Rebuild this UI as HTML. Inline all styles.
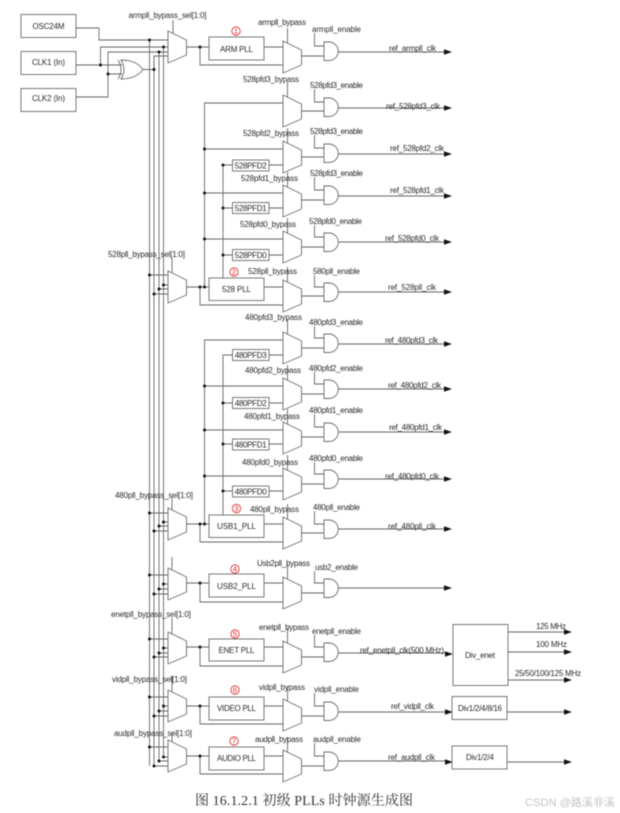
<!DOCTYPE html>
<html><head><meta charset="utf-8"><title>PLLs</title>
<style>
html,body{margin:0;padding:0;background:#fff;width:620px;height:813px;overflow:hidden}
svg{display:block;filter:blur(0.4px)}
.l{fill:none;stroke:#666;stroke-width:.9}
.s{fill:#fff;stroke:#6a6a6a;stroke-width:.9}
text{font-family:"Liberation Sans",sans-serif;font-size:8px;fill:#2a2a2a}
.c{text-anchor:middle}
.r{font-size:7.5px;fill:#e02020;text-anchor:middle}
.rc{fill:none;stroke:#e02020;stroke-width:.8}
</style></head><body>
<svg width="620" height="813" viewBox="0 0 620 813" xmlns="http://www.w3.org/2000/svg">
<defs>
<path id="m" d="M0 0L18.5 9V24L0 32Z" fill="#fff" stroke="#6a6a6a" stroke-width=".9"/>
<path id="a" d="M0 0H5A9.25 9.25 0 0 1 5 18.5H0Z" fill="#fff" stroke="#6a6a6a" stroke-width=".9"/>
<path id="h" d="M0 -2.800L8 0L0 2.800Z" fill="#111"/>
<circle id="d" r="1.5" fill="#111"/>
</defs>

<!-- Bus lines -->
<path class="l" d="M149.5 40V766M154 56V766M159 52V761M163.5 47V757"/>
<!-- Inputs -->
<path class="l" d="M76 28H99V40H168M76 65H122M100.5 65V47H168M76 97H108V52H168M108 74H122M143 69.5H154V56H168"/>
<rect class="s" x="21" y="14.500" width="55" height="23"/>
<rect class="s" x="21" y="51.500" width="55" height="23"/>
<rect class="s" x="21" y="88.500" width="55" height="23"/>
<path class="s" d="M121 60Q127 69.500 121 79Q136 79 143 69.500Q136 60 121 60Z"/>
<path class="l" d="M118 60Q124 69.500 118 79"/>
<use href="#d" x="100.500" y="65"/><use href="#d" x="108" y="74"/>
<use href="#d" x="149.500" y="40"/><use href="#d" x="163.500" y="47"/><use href="#d" x="159" y="52"/><use href="#d" x="154" y="69.500"/>
<text class="c" x="48.500" y="29" textLength="32">OSC24M</text>
<text class="c" x="48.500" y="65" textLength="33">CLK1 (In)</text>
<text class="c" x="48.500" y="101" textLength="33">CLK2 (In)</text>

<!-- Left stage wiring -->
<path class="l" d="M173 20V33M186 47H283M200 47V65H283
M172 258V273M149.500 275H168M163.500 285H168M159 289H168M154 294H168M186 287H283M200 287V305H283
M172 498V510M149.500 513H168M163.500 522H168M159 526H168M154 531H168M186 524H283M200 524V542H283
M172 557V570M149.500 575H168M163.500 584H168M159 589H168M154 594H168M186 583H283M200 583V602H283
M172 618V634M149.500 639H168M163.500 648H168M159 653H168M154 657H168M186 647H283M200 647V666H283
M172 676V692M149.500 697H168M163.500 706H168M159 711H168M154 716H168M186 706H283M200 706V724H283
M172 732V742M149.500 747H168M163.500 757H168M159 761H168M154 766H168M186 756H283M200 756V774H283"/>
<!-- 528 rails -->
<path class="l" d="M204.500 287V103H283M204.500 149H283M204.500 193H283M204.500 239H283M223 278V165H283M223 208H283M223 255H283"/>
<!-- 480 rails -->
<path class="l" d="M204.500 524V340H283M204.500 386H283M204.500 430H283M204.500 476H283M223 515V355H283M223 403H283M223 444H283M223 491H283"/>

<use href="#m" x="168" y="31"/><use href="#m" x="168" y="271"/><use href="#m" x="168" y="508"/><use href="#m" x="168" y="568"/><use href="#m" x="168" y="632"/><use href="#m" x="168" y="690"/><use href="#m" x="168" y="740"/>

<!-- Left mux dots -->
<g>
<use href="#d" x="200" y="47"/>
<use href="#d" x="149.500" y="275"/><use href="#d" x="163.500" y="285"/><use href="#d" x="159" y="289"/><use href="#d" x="154" y="294"/><use href="#d" x="200" y="287"/><use href="#d" x="204.500" y="287"/>
<use href="#d" x="149.500" y="513"/><use href="#d" x="163.500" y="522"/><use href="#d" x="159" y="526"/><use href="#d" x="154" y="531"/><use href="#d" x="200" y="524"/><use href="#d" x="204.500" y="524"/>
<use href="#d" x="149.500" y="575"/><use href="#d" x="163.500" y="584"/><use href="#d" x="159" y="589"/><use href="#d" x="154" y="594"/><use href="#d" x="200" y="583"/>
<use href="#d" x="149.500" y="639"/><use href="#d" x="163.500" y="648"/><use href="#d" x="159" y="653"/><use href="#d" x="154" y="657"/><use href="#d" x="200" y="647"/>
<use href="#d" x="149.500" y="697"/><use href="#d" x="163.500" y="706"/><use href="#d" x="159" y="711"/><use href="#d" x="154" y="716"/><use href="#d" x="200" y="706"/>
<use href="#d" x="149.500" y="747"/><use href="#d" x="163.500" y="757"/><use href="#d" x="159" y="761"/><use href="#d" x="154" y="766"/><use href="#d" x="200" y="756"/>
<use href="#d" x="204.500" y="149"/><use href="#d" x="204.500" y="193"/><use href="#d" x="204.500" y="239"/>
<use href="#d" x="223" y="165"/><use href="#d" x="223" y="208"/><use href="#d" x="223" y="255"/>
<use href="#d" x="204.500" y="386"/><use href="#d" x="204.500" y="430"/><use href="#d" x="204.500" y="476"/>
<use href="#d" x="223" y="403"/><use href="#d" x="223" y="444"/><use href="#d" x="223" y="491"/>
</g>

<!-- PLL boxes -->
<rect class="s" x="209" y="37" width="55" height="23"/>
<rect class="s" x="209" y="278" width="55" height="22.500"/>
<rect class="s" x="209" y="515" width="55" height="22.500"/>
<rect class="s" x="209" y="574" width="55" height="23"/>
<rect class="s" x="209" y="639" width="55" height="22"/>
<rect class="s" x="209" y="697" width="55" height="23"/>
<rect class="s" x="209" y="747" width="55" height="23"/>
<text class="c" x="236.500" y="52" textLength="33">ARM PLL</text>
<text class="c" x="236.500" y="292" textLength="29">528 PLL</text>
<text class="c" x="236.500" y="529" textLength="39">USB1_PLL</text>
<text class="c" x="236.500" y="589" textLength="39">USB2_PLL</text>
<text class="c" x="236.500" y="653" textLength="36">ENET PLL</text>
<text class="c" x="236.500" y="711" textLength="39">VIDEO PLL</text>
<text class="c" x="236.500" y="761" textLength="39">AUDIO PLL</text>

<!-- PFD boxes -->
<g>
<rect class="s" x="232.500" y="160" width="36.500" height="11"/>
<rect class="s" x="232.500" y="202.500" width="36.500" height="11"/>
<rect class="s" x="232.500" y="249.500" width="36.500" height="11"/>
<rect class="s" x="232.500" y="349.500" width="36.500" height="11"/>
<rect class="s" x="232.500" y="397.500" width="36.500" height="11"/>
<rect class="s" x="232.500" y="439" width="36.500" height="11"/>
<rect class="s" x="232.500" y="486" width="36.500" height="11"/>
<text class="c" x="250.700" y="168.500" textLength="32">528PFD2</text>
<text class="c" x="250.700" y="211" textLength="32">528PFD1</text>
<text class="c" x="250.700" y="258" textLength="32">528PFD0</text>
<text class="c" x="250.700" y="358" textLength="32">480PFD3</text>
<text class="c" x="250.700" y="406" textLength="32">480PFD2</text>
<text class="c" x="250.700" y="447.500" textLength="32">480PFD1</text>
<text class="c" x="250.700" y="494.500" textLength="32">480PFD0</text>
</g>

<!-- Right muxes, selectors, enable lines, outputs -->
<path class="l" d="M287.500 28V43M301 56H324M314.500 33V46H324M338 52H444
M287.500 82V97M301 111H324M314.500 89V102H324M338 108H444
M287.500 128V143M301 157H324M314.500 135V148H324M338 154H444
M287.500 172V187M301 200H324M314.500 177V190H324M338 196H444
M287.500 218V233M301 247H324M314.500 225V237H324M338 242H444
M287.500 267V282M301 296H324M314.500 275V287H324M338 292H444
M287.500 319V334M301 348H324M314.500 326V338H324M338 344H444
M287.500 365V380M301 394H324M314.500 372V384H324M338 389H444
M287.500 409V424M301 437H324M314.500 414V427H324M338 432H444
M287.500 455V470M301 484H324M314.500 462V474H324M338 479H444
M287.500 504V519M301 533H324M314.500 511V524H324M338 529H444
M287.500 564V579M301 593H324M314.500 571V583H324M338 588H444
M287.500 628V643M301 657H324M314.500 635V647H324M338 653H445
M287.500 686V701M301 716H324M314.500 693V706H324M338 712H445
M287.500 737V752M301 766H324M314.500 743V756H324M338 761H445"/>
<use href="#m" x="283" y="41"/><use href="#m" x="283" y="95"/><use href="#m" x="283" y="141"/><use href="#m" x="283" y="185"/><use href="#m" x="283" y="231"/><use href="#m" x="283" y="280"/><use href="#m" x="283" y="332"/><use href="#m" x="283" y="378"/><use href="#m" x="283" y="422"/><use href="#m" x="283" y="468"/><use href="#m" x="283" y="517"/><use href="#m" x="283" y="577"/><use href="#m" x="283" y="641"/><use href="#m" x="283" y="699"/><use href="#m" x="283" y="750"/>
<use href="#a" x="324" y="42"/><use href="#a" x="324" y="98"/><use href="#a" x="324" y="144"/><use href="#a" x="324" y="186"/><use href="#a" x="324" y="233"/><use href="#a" x="324" y="283"/><use href="#a" x="324" y="334"/><use href="#a" x="324" y="380"/><use href="#a" x="324" y="423"/><use href="#a" x="324" y="470"/><use href="#a" x="324" y="520"/><use href="#a" x="324" y="579"/><use href="#a" x="324" y="643"/><use href="#a" x="324" y="702"/><use href="#a" x="324" y="752"/>
<use href="#h" x="444" y="52"/><use href="#h" x="444" y="108"/><use href="#h" x="444" y="154"/><use href="#h" x="444" y="196"/><use href="#h" x="444" y="242"/><use href="#h" x="444" y="292"/><use href="#h" x="444" y="344"/><use href="#h" x="444" y="389"/><use href="#h" x="444" y="432"/><use href="#h" x="444" y="479"/><use href="#h" x="444" y="529"/><use href="#h" x="444" y="588"/><use href="#h" x="445" y="654"/><use href="#h" x="445" y="712"/><use href="#h" x="445" y="762"/>

<!-- Right side divider blocks -->
<path class="l" d="M507 632H564M507 652H564M507 680H564M507 712H564M507 762H564"/>
<rect class="s" x="453" y="624.500" width="55" height="61"/>
<rect class="s" x="452" y="696.500" width="55" height="23"/>
<rect class="s" x="452" y="746" width="55" height="23"/>
<use href="#h" x="564" y="632"/><use href="#h" x="564" y="652"/><use href="#h" x="564" y="680"/><use href="#h" x="564" y="712"/><use href="#h" x="564" y="762"/>
<text class="c" x="480" y="658" textLength="30">Div_enet</text>
<text class="c" x="480" y="711" textLength="44">Div1/2/4/8/16</text>
<text class="c" x="480" y="760" textLength="28">Div1/2/4</text>
<text x="536" y="629" textLength="30">125 MHz</text>
<text x="536" y="647" textLength="31">100 MHz</text>
<text x="515" y="676" textLength="66">25/50/100/125 MHz</text>

<!-- Selector labels -->
<text x="128.500" y="18" textLength="78">armpll_bypass_sel[1:0]</text>
<text x="108" y="257" textLength="77">528pll_bypass_sel[1:0]</text>
<text x="115" y="498" textLength="78">480pll_bypass_sel[1:0]</text>
<text x="111" y="617" textLength="80">enetpll_bypass_sel[1:0]</text>
<text x="112" y="682" textLength="75">vidpll_bypass_sel[1:0]</text>
<text x="114" y="736" textLength="78">audpll_bypass_sel[1:0]</text>

<!-- Bypass labels -->
<text x="258" y="25" textLength="48">armpll_bypass</text>
<text x="243" y="82" textLength="56">528pfd3_bypass</text>
<text x="243" y="136" textLength="56">528pfd2_bypass</text>
<text x="241" y="181" textLength="57">528pfd1_bypass</text>
<text x="240" y="227" textLength="56">528pfd0_bypass</text>
<text x="248" y="274" textLength="49">528pll_bypass</text>
<text x="245" y="320" textLength="57">480pfd3_bypass</text>
<text x="245" y="373" textLength="56">480pfd2_bypass</text>
<text x="244" y="419" textLength="56">480pfd1_bypass</text>
<text x="242" y="465" textLength="56">480pfd0_bypass</text>
<text x="250" y="512" textLength="49">480pll_bypass</text>
<text x="257" y="566" textLength="53">Usb2pll_bypass</text>
<text x="259" y="630" textLength="50">enetpll_bypass</text>
<text x="259" y="690" textLength="46">vidpll_bypass</text>
<text x="255" y="742" textLength="48">audpll_bypass</text>

<!-- Enable labels -->
<text x="312" y="32" textLength="49">armpll_enable</text>
<text x="310" y="88" textLength="53">528pfd3_enable</text>
<text x="310" y="134" textLength="53">528pfd3_enable</text>
<text x="310" y="176" textLength="53">528pfd3_enable</text>
<text x="309" y="224" textLength="53">528pfd0_enable</text>
<text x="313" y="274" textLength="47">580pll_enable</text>
<text x="309" y="325" textLength="54">480pfd3_enable</text>
<text x="309" y="371" textLength="54">480pfd2_enable</text>
<text x="309" y="413" textLength="54">480pfd1_enable</text>
<text x="309" y="461" textLength="54">480pfd0_enable</text>
<text x="313" y="510" textLength="47">480pll_enable</text>
<text x="315" y="570" textLength="43">usb2_enable</text>
<text x="312" y="634" textLength="49">enetpll_enable</text>
<text x="314" y="692" textLength="45">vidpll_enable</text>
<text x="313" y="742" textLength="48">audpll_enable</text>

<!-- Output labels -->
<text x="389" y="51" textLength="47">ref_armpll_clk</text>
<text x="386" y="109" textLength="54">ref_528pfd3_clk</text>
<text x="390" y="151" textLength="54">ref_528pfd2_clk</text>
<text x="390" y="193" textLength="54">ref_528pfd1_clk</text>
<text x="385" y="241" textLength="54">ref_528pfd0_clk</text>
<text x="388" y="290" textLength="48">ref_528pll_clk</text>
<text x="385" y="343" textLength="53">ref_480pfd3_clk</text>
<text x="388" y="388" textLength="53">ref_480pfd2_clk</text>
<text x="389" y="430" textLength="53">ref_480pfd1_clk</text>
<text x="385" y="479" textLength="54">ref_480pfd0_clk</text>
<text x="388" y="529" textLength="48">ref_480pll_clk</text>
<text x="360" y="653" textLength="84">ref_enetpll_clk(500 MHz)</text>
<text x="391" y="709" textLength="43">ref_vidpll_clk</text>
<text x="388" y="760" textLength="47">ref_audpll_clk</text>

<!-- Red numbers -->
<g>
<circle class="rc" cx="236" cy="31" r="4.200"/><text class="r" x="236" y="33.700">1</text>
<circle class="rc" cx="234" cy="272" r="4.200"/><text class="r" x="234" y="274.700">2</text>
<circle class="rc" cx="236.500" cy="508.500" r="4.200"/><text class="r" x="236.500" y="511.200">3</text>
<circle class="rc" cx="235" cy="569" r="4.200"/><text class="r" x="235" y="571.700">4</text>
<circle class="rc" cx="235" cy="634" r="4.200"/><text class="r" x="235" y="636.700">5</text>
<circle class="rc" cx="235" cy="690" r="4.200"/><text class="r" x="235" y="692.700">6</text>
<circle class="rc" cx="234" cy="741" r="4.200"/><text class="r" x="234" y="743.700">7</text>
</g>

<!-- Caption and watermark -->
<text x="195" y="805" textLength="218" style='font-family:"Liberation Serif","Noto Serif CJK SC",serif;font-size:14px;fill:#333'>图 16.1.2.1 初级 PLLs 时钟源生成图</text>
<text x="525" y="806" textLength="90" style='font-family:"Liberation Sans","Noto Sans CJK SC",sans-serif;font-size:11px;fill:#c4c4c4'>CSDN @路溪非溪</text>
</svg>
</body></html>
